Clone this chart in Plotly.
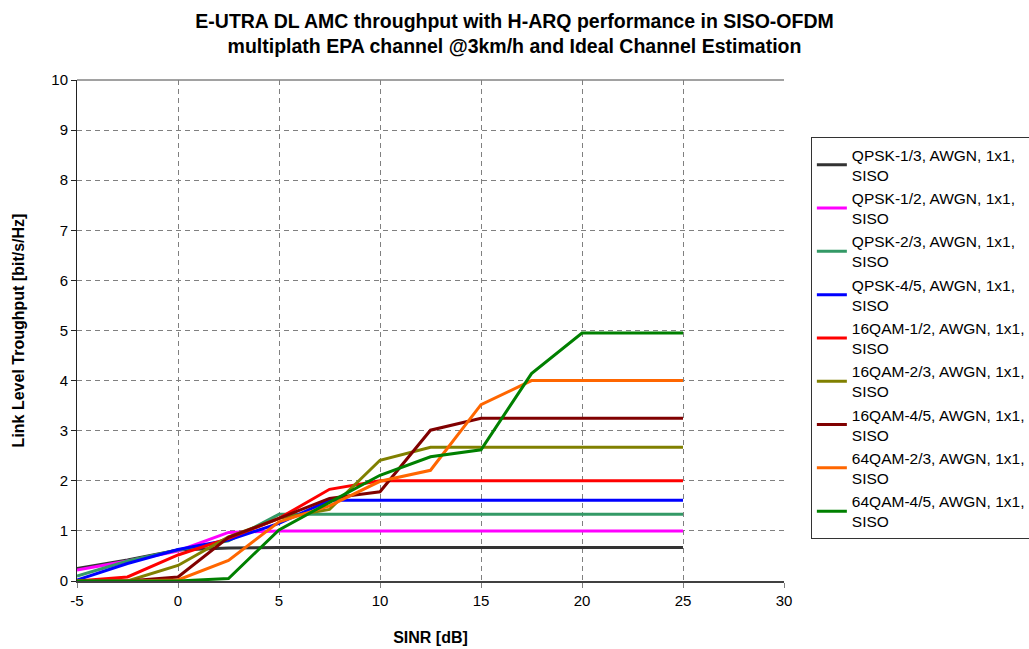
import plotly.graph_objects as go

sinr = [-5, -2.5, 0, 2.5, 5, 7.5, 10, 12.5, 15, 17.5, 20, 22.5, 25]

names = [
    "QPSK-1/3, AWGN, 1x1,<br>SISO",
    "QPSK-1/2, AWGN, 1x1,<br>SISO",
    "QPSK-2/3, AWGN, 1x1,<br>SISO",
    "QPSK-4/5, AWGN, 1x1,<br>SISO",
    "16QAM-1/2, AWGN, 1x1,<br>SISO",
    "16QAM-2/3, AWGN, 1x1,<br>SISO",
    "16QAM-4/5, AWGN, 1x1,<br>SISO",
    "64QAM-2/3, AWGN, 1x1,<br>SISO",
    "64QAM-4/5, AWGN, 1x1,<br>SISO",
]

qpsk_1_3 = [0.25, 0.42, 0.62, 0.66, 0.67, 0.67, 0.67, 0.67, 0.67, 0.67, 0.67, 0.67, 0.67]
qpsk_1_2 = [0.22, 0.40, 0.60, 0.97, 1.00, 1.00, 1.00, 1.00, 1.00, 1.00, 1.00, 1.00, 1.00]
qpsk_2_3 = [0.10, 0.40, 0.62, 0.80, 1.33, 1.33, 1.33, 1.33, 1.33, 1.33, 1.33, 1.33, 1.33]
qpsk_4_5 = [0.02, 0.35, 0.63, 0.82, 1.15, 1.61, 1.61, 1.61, 1.61, 1.61, 1.61, 1.61, 1.61]
qam16_1_2 = [0.00, 0.08, 0.52, 0.85, 1.25, 1.83, 2.00, 2.00, 2.00, 2.00, 2.00, 2.00, 2.00]
qam16_2_3 = [0.00, 0.00, 0.31, 0.88, 1.25, 1.43, 2.41, 2.67, 2.67, 2.67, 2.67, 2.67, 2.67]
qam16_4_5 = [0.00, 0.00, 0.08, 0.87, 1.25, 1.65, 1.78, 3.01, 3.25, 3.25, 3.25, 3.25, 3.25]
qam64_2_3 = [0.00, 0.00, 0.02, 0.41, 1.18, 1.50, 1.99, 2.21, 3.52, 4.00, 4.00, 4.00, 4.00]
qam64_4_5 = [0.00, 0.00, 0.00, 0.05, 1.02, 1.57, 2.11, 2.48, 2.62, 4.14, 4.95, 4.95, 4.95]

series = [qpsk_1_3, qpsk_1_2, qpsk_2_3, qpsk_4_5, qam16_1_2, qam16_2_3, qam16_4_5, qam64_2_3, qam64_4_5]
colors = ["#333333", "#FF00FF", "#339966", "#0000FF", "#FF0000", "#808000", "#800000", "#FF6600", "#008000"]

x_ticks = [-5, 0, 5, 10, 15, 20, 25, 30]
x_tick_labels = ["-5", "0", "5", "10", "15", "20", "25", "30"]
y_ticks = list(range(0, 11))

fig = go.Figure()
for name, vals, col in zip(names, series, colors):
    fig.add_trace(go.Scatter(x=sinr, y=vals, mode="lines", name=name,
                             line=dict(color=col, width=3)))

font = "Arial, Liberation Sans, sans-serif"
fig.update_layout(
    width=1029, height=649,
    paper_bgcolor="white", plot_bgcolor="white",
    margin=dict(l=77, r=245, t=80, b=68, autoexpand=False),
    font=dict(family=font, size=15, color="black"),
    title=dict(text="<b>E-UTRA DL AMC throughput with H-ARQ performance in SISO-OFDM<br>multiplath EPA channel @3km/h and Ideal Channel Estimation</b>",
               x=0.5, xanchor="center", y=0.957, yanchor="top",
               font=dict(size=19.5, family=font)),
    showlegend=True,
    legend=dict(x=1.038, xanchor="left", y=0.886, yanchor="top",
                bordercolor="#333333", borderwidth=1, bgcolor="white",
                font=dict(size=15.5, family=font), itemwidth=30,
                tracegroupgap=0),
    xaxis=dict(range=[-5, 30], tickvals=x_ticks, ticktext=x_tick_labels, showgrid=True,
               gridcolor="#808080", griddash="5px,4px", gridwidth=1,
               showline=True, linecolor="#404040", linewidth=2,
               ticks="outside", ticklen=5, tickcolor="#808080",
               zeroline=False, automargin=False,
               tickfont=dict(size=15),
               title=dict(text="<b>SINR [dB]</b>", font=dict(size=16), standoff=24)),
    yaxis=dict(range=[0, 10], tickvals=y_ticks, showgrid=True,
               gridcolor="#808080", griddash="5px,4px", gridwidth=1,
               showline=True, linecolor="#222222", linewidth=1,
               ticks="outside", ticklen=5, tickcolor="#222222",
               zeroline=False, automargin=False,
               tickfont=dict(size=15),
               title=dict(text="<b>Link Level Troughput [bit/s/Hz]</b>", font=dict(size=16), standoff=22)),
    shapes=[dict(type="line", xref="paper", yref="paper", x0=0, x1=1, y0=1, y1=1,
                 line=dict(color="#444444", width=1), layer="below")],
)

fig.write_html("out.html", config={"displayModeBar": False},
               post_script="document.body.style.margin='0';document.body.style.overflow='hidden';")
